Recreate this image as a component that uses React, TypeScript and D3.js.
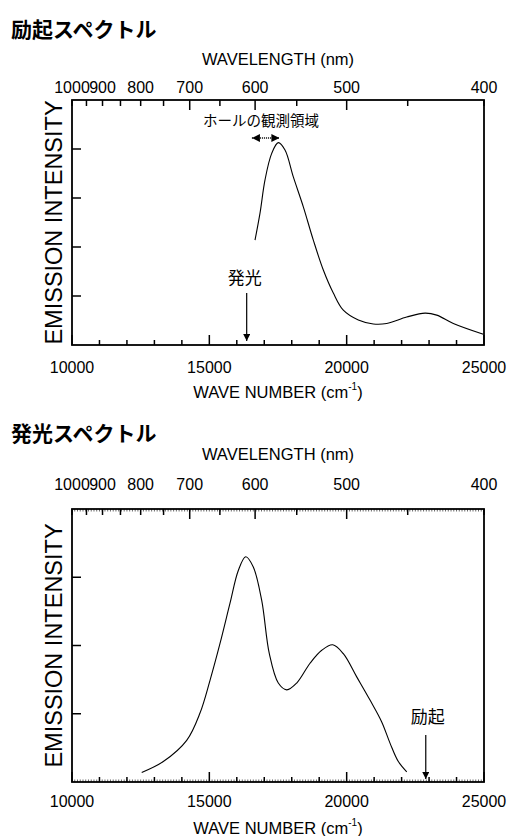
import React, { useEffect, useRef } from 'react';
import * as d3 from 'd3';

// excitation spectrum (top)
const excitationWaveNumber = [16663, 16845, 17027, 17271, 17511, 17755, 18058, 18422, 18786, 19150, 19514, 19878, 20424, 20970, 21458, 22186, 22853, 23279, 23883, 24976];
const excitationIntensity = [2.14, 2.69, 3.37, 3.91, 4.13, 3.98, 3.43, 2.82, 2.14, 1.53, 1.06, 0.71, 0.51, 0.43, 0.44, 0.57, 0.65, 0.61, 0.44, 0.22];

// emission spectrum (bottom)
const emissionWaveNumber = [12538, 13324, 14176, 14660, 15025, 15389, 15753, 16055, 16325, 16601, 16907, 17184, 17511, 17817, 18181, 18666, 19092, 19492, 19878, 20366, 20850, 21276, 21578, 21881, 22187];
const emissionIntensity = [0.14, 0.30, 0.61, 1.01, 1.49, 2.03, 2.62, 3.10, 3.30, 3.15, 2.66, 1.88, 1.45, 1.35, 1.45, 1.74, 1.93, 2.01, 1.88, 1.54, 1.20, 0.88, 0.57, 0.30, 0.15];

const waveNumberLabels = [10000, 15000, 20000, 25000];
const waveNumberMinor = [11000, 12000, 13000, 14000, 16000, 17000, 18000, 19000, 21000, 22000, 23000, 24000];
const wavelengthLabels = [1000, 900, 800, 700, 600, 500, 400];
const wavelengthLong = [700, 600, 500];
const wavelengthMinor = [950, 850, 750, 650, 550, 450];

const holeRange = [16550, 17550];
const emissionMark = 16360;
const excitationMark = 22880;

const latin = 'Liberation Sans, Arial, sans-serif';
const cjk = '"Noto Sans CJK JP", sans-serif';

const X0 = 72, X1 = 484;

const App = () => {
  const ref = useRef<SVGSVGElement>(null);

  useEffect(() => {
    const svg = d3.select(ref.current);
    svg.selectAll('*').remove();

    const defs = svg.append('defs');
    const mk = (id: string, path: string, size: number) =>
      defs.append('marker').attr('id', id).attr('viewBox', '0 0 10 10')
        .attr('refX', 10).attr('refY', 5).attr('markerWidth', size).attr('markerHeight', size)
        .attr('markerUnits', 'userSpaceOnUse').attr('orient', 'auto-start-reverse')
        .append('path').attr('d', path).attr('fill', '#000');
    mk('head', 'M0,0 L10,5 L0,10 Z', 7);
    mk('headSmall', 'M0,0 L10,5 L0,10 Z', 8);

    const x = d3.scaleLinear().domain([10000, 25000]).range([X0, X1]);

    const panel = (opt: any) => {
      const { top, bottom, yMax, xs, ys, title, titleY, wlTitleY, wlLabelY, wnLabelY, wnTitleY, hatch } = opt;
      const g = svg.append('g');
      const y = d3.scaleLinear().domain([0, yMax]).range([bottom, top]);

      g.append('text').attr('x', 11).attr('y', titleY).attr('font-family', cjk)
        .attr('font-weight', 'bold').attr('font-size', 21).text(title);

      // frame
      g.append('rect').attr('x', X0).attr('y', top).attr('width', X1 - X0).attr('height', bottom - top)
        .attr('fill', 'none').attr('stroke', '#000').attr('stroke-width', 1.8);

      if (hatch) {
        d3.range(10000, 25001, 100).forEach(v => {
          [top, bottom].forEach((yy, i) => {
            g.append('line').attr('x1', x(v)).attr('x2', x(v))
              .attr('y1', yy).attr('y2', i === 0 ? yy + 2.5 : yy - 2.5)
              .attr('stroke', '#000').attr('stroke-width', 0.6);
          });
        });
      }

      // bottom axis
      waveNumberLabels.forEach(v => {
        g.append('line').attr('x1', x(v)).attr('x2', x(v)).attr('y1', bottom).attr('y2', bottom - 10)
          .attr('stroke', '#000').attr('stroke-width', 1.5);
        g.append('text').attr('x', x(v)).attr('y', wnLabelY).attr('text-anchor', 'middle')
          .attr('font-family', latin).attr('font-size', 16).text(v);
      });
      waveNumberMinor.forEach(v => {
        g.append('line').attr('x1', x(v)).attr('x2', x(v)).attr('y1', bottom).attr('y2', bottom - 5)
          .attr('stroke', '#000').attr('stroke-width', 1.5);
      });
      const wn = g.append('text').attr('x', (X0 + X1) / 2).attr('y', wnTitleY).attr('text-anchor', 'middle')
        .attr('font-family', latin).attr('font-size', 16.5);
      wn.append('tspan').text('WAVE NUMBER (cm');
      wn.append('tspan').attr('font-size', 10).attr('dy', -8).text('-1');
      wn.append('tspan').attr('dy', 8).text(')');

      // top axis (wavelength)
      wavelengthLabels.forEach(v => {
        const px = x(1e7 / v);
        const len = wavelengthLong.includes(v) ? 10 : 6;
        g.append('line').attr('x1', px).attr('x2', px).attr('y1', top).attr('y2', top + len)
          .attr('stroke', '#000').attr('stroke-width', 1.5);
        g.append('text').attr('x', px).attr('y', wlLabelY).attr('text-anchor', 'middle')
          .attr('font-family', latin).attr('font-size', 16).text(v);
      });
      wavelengthMinor.forEach(v => {
        const px = x(1e7 / v);
        g.append('line').attr('x1', px).attr('x2', px).attr('y1', top).attr('y2', top + 6)
          .attr('stroke', '#000').attr('stroke-width', 1.5);
      });
      g.append('text').attr('x', (X0 + X1) / 2).attr('y', wlTitleY).attr('text-anchor', 'middle')
        .attr('font-family', latin).attr('font-size', 16.5).text('WAVELENGTH (nm)');

      // left axis
      d3.range(1, yMax).forEach(v => {
        g.append('line').attr('x1', X0).attr('x2', X0 + 9).attr('y1', y(v)).attr('y2', y(v))
          .attr('stroke', '#000').attr('stroke-width', 1.5);
      });
      g.append('text').attr('transform', `translate(61.5,${(top + bottom) / 2}) rotate(-90)`)
        .attr('text-anchor', 'middle').attr('font-family', latin).attr('font-size', 23.5)
        .text('EMISSION INTENSITY');

      const line = d3.line<number>().x((d, i) => x(xs[i])).y(d => y(d)).curve(d3.curveCatmullRom.alpha(0.5));
      g.append('path').attr('d', line(ys)).attr('fill', 'none').attr('stroke', '#000').attr('stroke-width', 1.1);

      return { g, y };
    };

    const p1 = panel({
      top: 100, bottom: 345, yMax: 5, xs: excitationWaveNumber, ys: excitationIntensity,
      title: '励起スペクトル', titleY: 37, wlTitleY: 65, wlLabelY: 93, wnLabelY: 373, wnTitleY: 398, hatch: false,
    });
    // hole observation region
    p1.g.append('line').attr('x1', x(holeRange[0])).attr('x2', x(holeRange[1])).attr('y1', 138).attr('y2', 138)
      .attr('stroke', '#000').attr('stroke-width', 1.3).attr('stroke-dasharray', '1,1')
      .attr('marker-start', 'url(#headSmall)').attr('marker-end', 'url(#headSmall)');
    p1.g.append('text').attr('x', 261).attr('y', 126).attr('text-anchor', 'middle')
      .attr('font-family', cjk).attr('font-size', 14.5).text('ホールの観測領域');
    p1.g.append('text').attr('x', x(emissionMark) - 2).attr('y', 284).attr('text-anchor', 'middle')
      .attr('font-family', cjk).attr('font-size', 17).text('発光');
    p1.g.append('line').attr('x1', x(emissionMark)).attr('x2', x(emissionMark)).attr('y1', 293).attr('y2', 341)
      .attr('stroke', '#000').attr('stroke-width', 1.2).attr('marker-end', 'url(#head)');

    const p2 = panel({
      top: 509, bottom: 782, yMax: 4, xs: emissionWaveNumber, ys: emissionIntensity,
      title: '発光スペクトル', titleY: 441, wlTitleY: 460, wlLabelY: 490, wnLabelY: 807, wnTitleY: 834, hatch: true,
    });
    p2.g.append('text').attr('x', x(excitationMark) + 2).attr('y', 723).attr('text-anchor', 'middle')
      .attr('font-family', cjk).attr('font-size', 17).text('励起');
    p2.g.append('line').attr('x1', x(excitationMark)).attr('x2', x(excitationMark)).attr('y1', 735).attr('y2', 779)
      .attr('stroke', '#000').attr('stroke-width', 1.2).attr('marker-end', 'url(#head)');
  }, []);

  return (
    <svg ref={ref} width={508} height={836}
      style={{ position: 'absolute', left: 0, top: 0, background: '#fff' }} />
  );
};

export default App;
